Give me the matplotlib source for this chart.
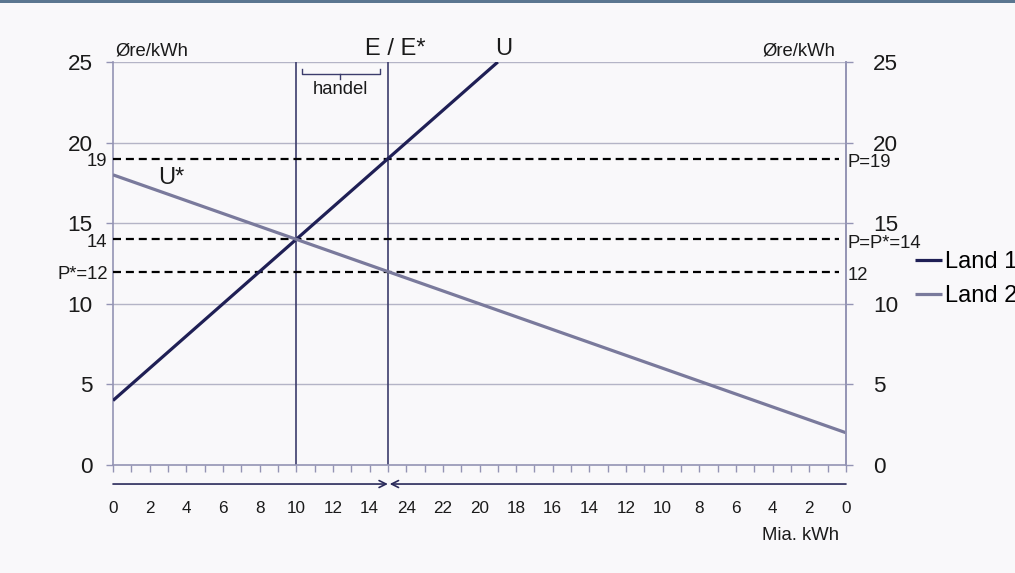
import matplotlib
matplotlib.use("Agg")
import matplotlib.pyplot as plt
from matplotlib.patches import Rectangle

plt.rcParams["font.family"] = ["Liberation Sans", "DejaVu Sans"]

# data (Øre/kWh mod mia. kWh)
total_qty = 40                 # længde af x-aksen; land 2 måles fra højre
land1_q = [0, 21]
land1_p = [4, 25]
land2_q = [0, 40]
land2_p = [18, 2]
price_lines = [19, 14, 12]
left_price_labels = ["19", "14", "P*=12"]
right_price_labels = ["P=19", "P=P*=14", "12"]
q_lines = [10, 15]             # E* og E
land1_ticklabels = [0, 2, 4, 6, 8, 10, 12, 14]
land2_ticklabels = [24, 22, 20, 18, 16, 14, 12, 10, 8, 6, 4, 2, 0]
y_ticks = [0, 5, 10, 15, 20, 25]

bg = "#f9f8fa"
spine_c = "#9494b4"
grid_c = "#b4b4c6"
c1 = "#1f1f55"
c2 = "#7a7a9c"
txt = "#1a1a1a"
small = 13.3

fig = plt.figure(figsize=(10.15, 5.73), dpi=100, facecolor=bg)
ax = fig.add_axes([113 / 1015, 1 - 465 / 573, 733 / 1015, 403 / 573])
ax.set_facecolor(bg)
fig.add_artist(Rectangle((0, 1 - 3 / 573), 1, 3 / 573, transform=fig.transFigure,
                         color="#5b7690", lw=0))

ax.set_xlim(0, total_qty)
ax.set_ylim(0, 25)

# gitterlinjer
for y in y_ticks[1:]:
    ax.axhline(y, color=grid_c, lw=1, zorder=1)

ax.spines["top"].set_visible(False)
for s in ["left", "right", "bottom"]:
    ax.spines[s].set_color(spine_c)
    ax.spines[s].set_linewidth(1.2)

# x-akse: mærker hver enhed, tal hver 2.
pos = land1_ticklabels + [total_qty - v for v in land2_ticklabels]
labs = [str(v) for v in land1_ticklabels + land2_ticklabels]
ax.set_xticks(pos)
ax.set_xticklabels(labs, fontsize=12.3, color=txt)
ax.set_xticks(range(0, total_qty + 1), minor=True)
ax.tick_params(axis="x", which="both", direction="out", length=5, width=1,
               color=spine_c, pad=21)

ax.set_yticks(y_ticks)
ax.set_yticklabels([str(v) for v in y_ticks], fontsize=16.2, color=txt)
ax.tick_params(axis="y", direction="out", length=5, width=1, color=spine_c, pad=9.5)

ax2 = ax.twinx()
ax2.set_ylim(0, 25)
ax2.set_yticks(y_ticks)
ax2.set_yticklabels([str(v) for v in y_ticks], fontsize=16.2, color=txt)
ax2.tick_params(axis="y", direction="out", length=5, width=1, color=spine_c, pad=14.5)
for s in ["top", "left", "bottom"]:
    ax2.spines[s].set_visible(False)
ax2.spines["right"].set_color(spine_c)
ax2.spines["right"].set_linewidth(1.2)

# lodrette linjer ved E* og E
for q in q_lines:
    ax.vlines(q, 0, 25, color="#3c3c6c", lw=1.2, zorder=2)

# prislinjer
ax.hlines(price_lines, 0, 39.6, colors="black", lw=1.6, linestyles=(0, (3.6, 2.2)), zorder=3)
for p, lab in zip(price_lines, left_price_labels):
    ax.text(-0.3, p - 0.18, lab, ha="right", va="center", fontsize=small, color=txt)
for p, lab in zip(price_lines, right_price_labels):
    ax.text(40.1, p - 0.25, lab, ha="left", va="center", fontsize=small, color=txt)

l1, = ax.plot(land1_q, land1_p, color=c1, lw=2.3, zorder=4, solid_capstyle="butt")
l2, = ax.plot(land2_q, land2_p, color=c2, lw=2.3, zorder=4, solid_capstyle="butt")

fig.legend([l1, l2], ["Land 1", "Land 2"], loc="center left",
           bbox_to_anchor=(915 / 1015, 1 - 279 / 573), frameon=False, fontsize=17,
           handlelength=1.15, handletextpad=0.1, labelspacing=0.5,
           borderpad=0, borderaxespad=0)

# tekster
ax.text(0.15, 25.15, "Øre/kWh", ha="left", va="bottom", fontsize=small, color=txt)
ax.text(39.4, 25.15, "Øre/kWh", ha="right", va="bottom", fontsize=small, color=txt)
ax.text(15.4, 25.15, "E / E*", ha="center", va="bottom", fontsize=17, color=txt)
ax.text(21.3, 25.15, "U", ha="center", va="bottom", fontsize=17, color=txt)
ax.text(3.2, 17.8, "U*", ha="center", va="center", fontsize=17, color=txt)

# klamme for handel
ax.plot([10.3, 10.3, 14.55, 14.55], [24.55, 24.27, 24.27, 24.55], color="#3c3c6c", lw=1, zorder=5)
ax.plot([12.4, 12.4], [24.27, 23.95], color="#3c3c6c", lw=1, zorder=5)
ax.text(12.4, 23.3, "handel", ha="center", va="center", fontsize=small, color=txt)

# dobbeltpil under aksen
ax.annotate("", xy=(15, -1.18), xytext=(0, -1.18), annotation_clip=False,
            arrowprops=dict(arrowstyle="->,head_length=0.5,head_width=0.25", color="#2a2a5a", lw=1.2,
                            shrinkA=0, shrinkB=0))
ax.annotate("", xy=(15.1, -1.18), xytext=(40, -1.18), annotation_clip=False,
            arrowprops=dict(arrowstyle="->,head_length=0.5,head_width=0.25", color="#2a2a5a", lw=1.2,
                            shrinkA=0, shrinkB=0))
ax.text(39.6, -4.4, "Mia. kWh", ha="right", va="center", fontsize=small, color=txt)

fig.savefig("out.png", dpi=100, facecolor=bg)
